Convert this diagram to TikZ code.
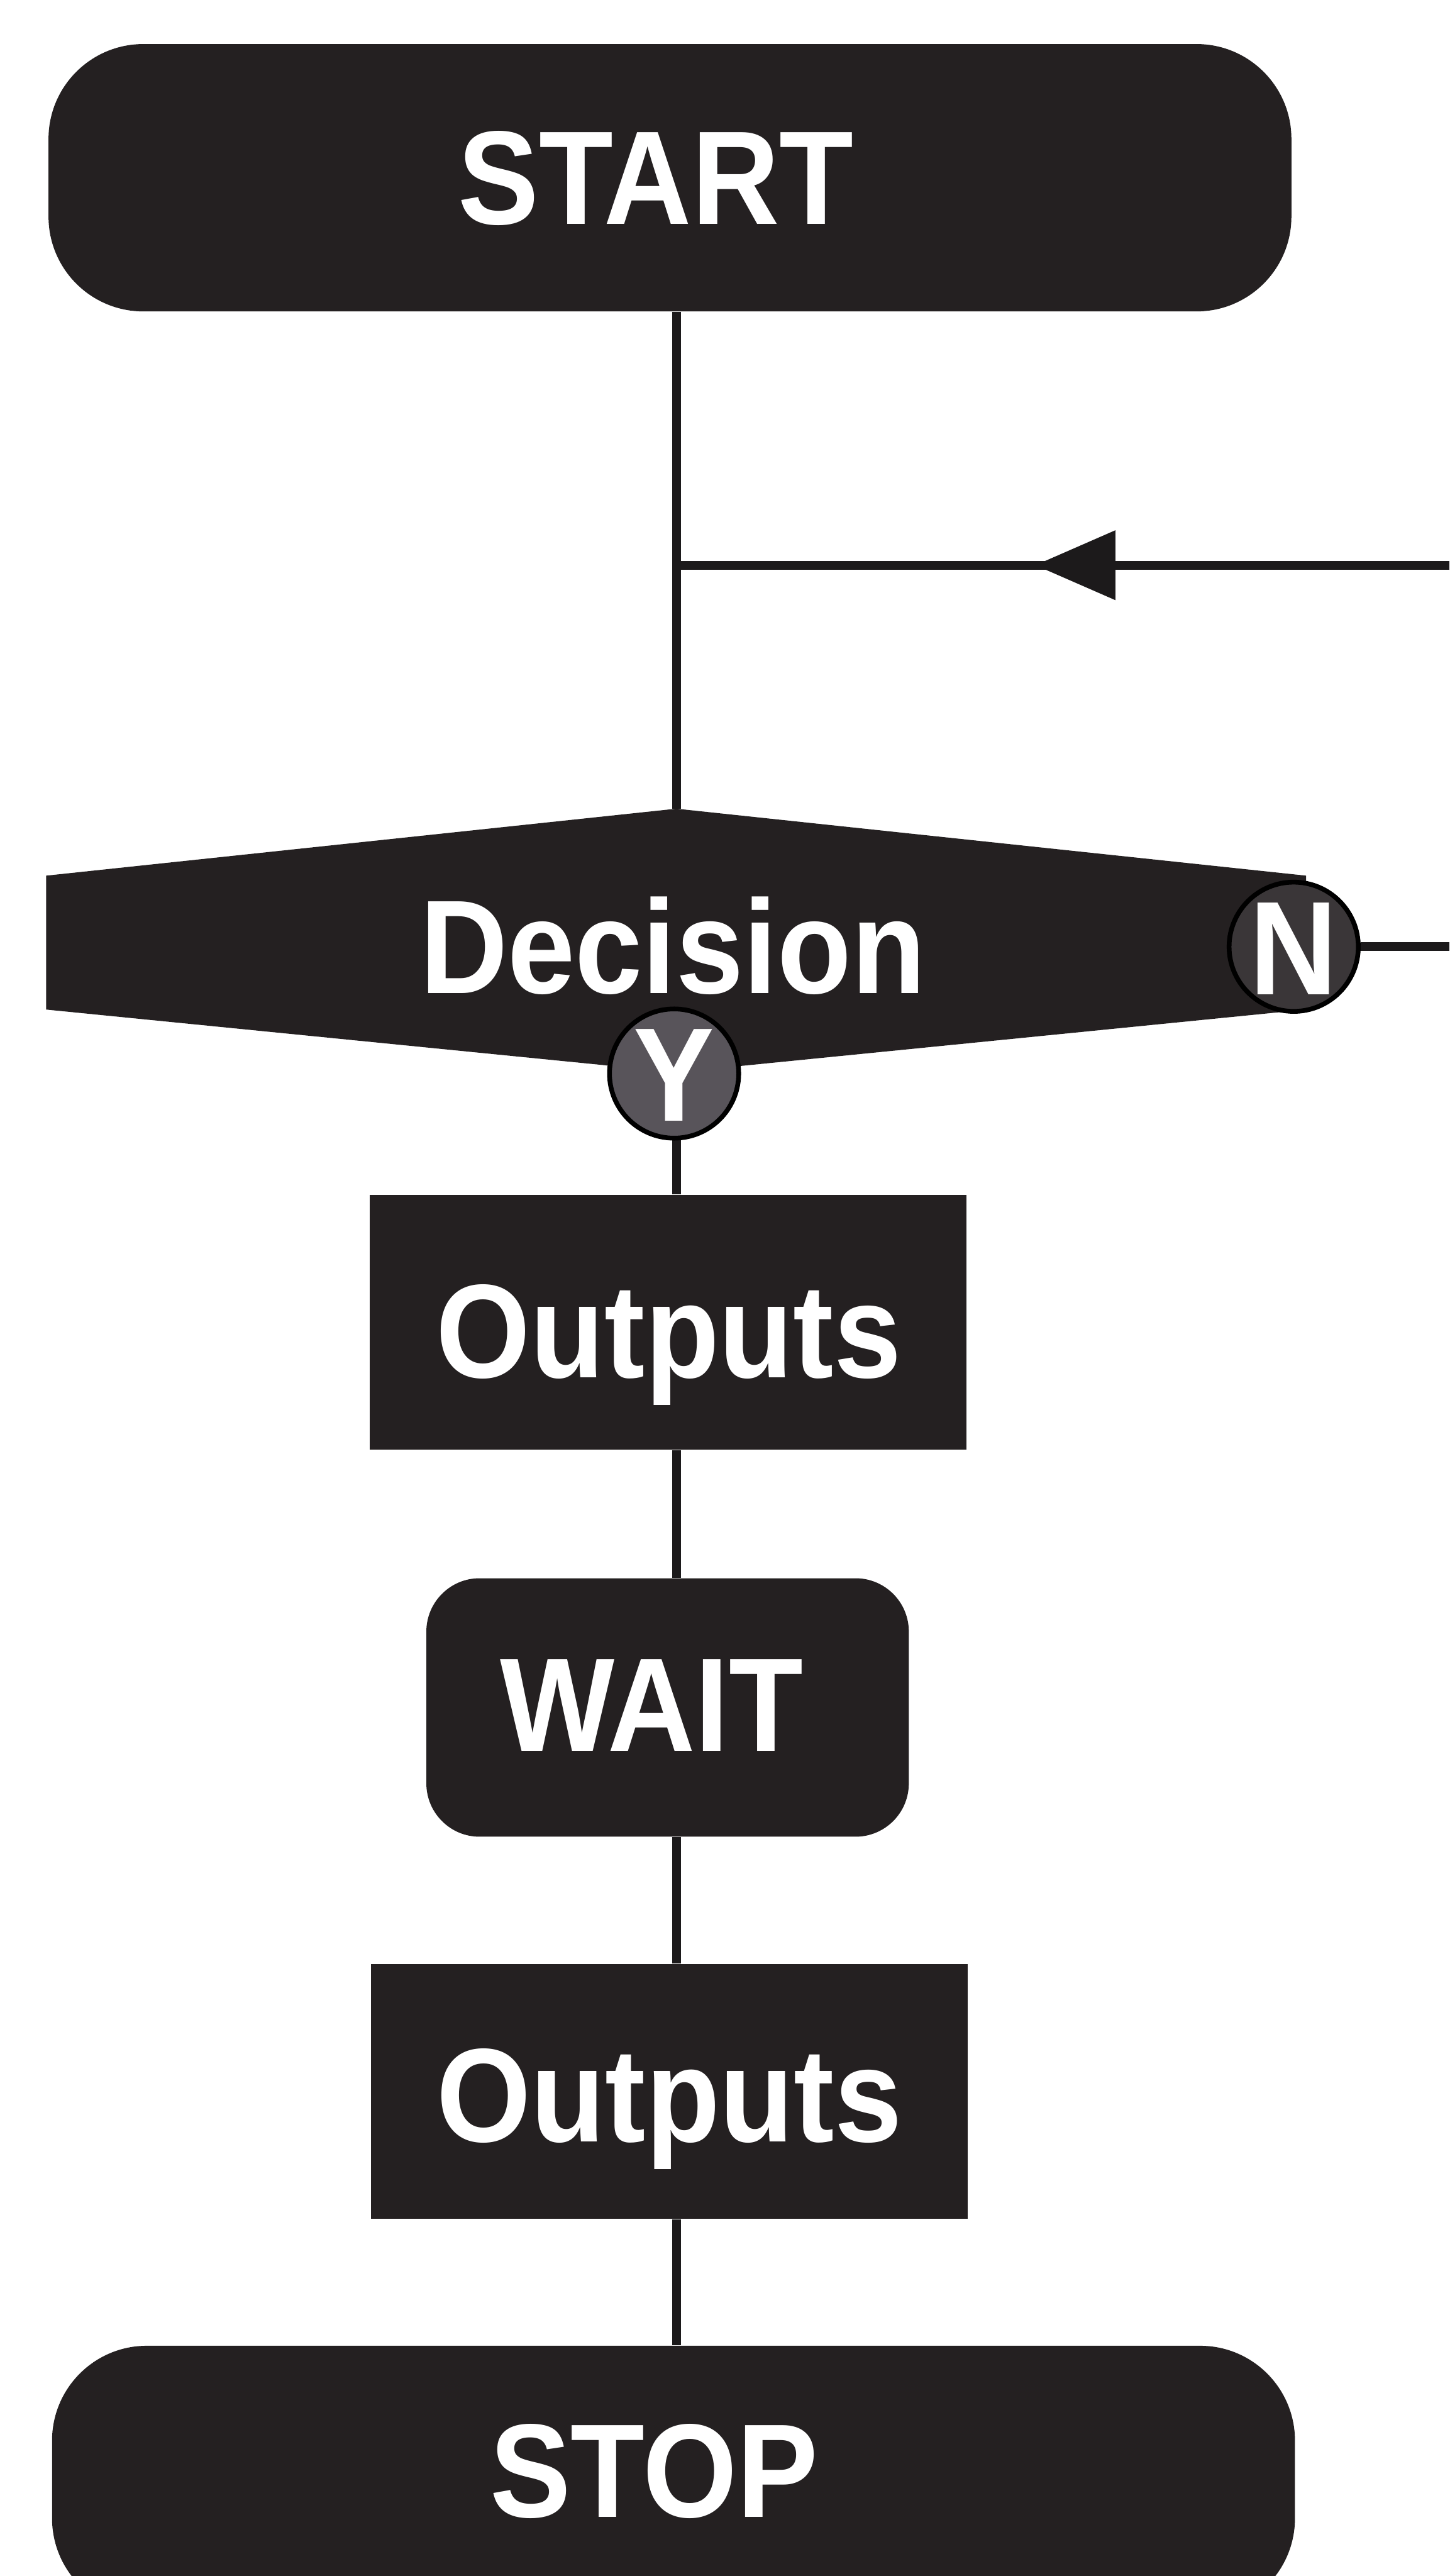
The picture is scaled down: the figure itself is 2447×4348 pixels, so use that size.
\documentclass[tikz,border=0pt]{standalone}
\usepackage{fontspec}
\newfontfamily\diafont{Liberation Sans}[FakeStretch=0.91]
\definecolor{boxblack}{HTML}{242021}
\definecolor{lineblack}{HTML}{1C1A1B}
\definecolor{ngray}{HTML}{3A3638}
\definecolor{ygray}{HTML}{58545A}
\begin{document}
\begin{tikzpicture}[x=0.01cm,y=-0.01cm,
  conn/.style={line width=0.15cm, draw=lineblack},
  term/.style={fill=boxblack, inner sep=0, minimum width=20.97cm, minimum height=4.51cm, rounded corners=1.6cm},
  procbox/.style={fill=boxblack, inner sep=0, minimum width=10.07cm, minimum height=4.3cm},
  waitbox/.style={fill=boxblack, inner sep=0, minimum width=8.14cm, minimum height=4.36cm, rounded corners=0.9cm},
  lbl/.style={text=white, inner sep=0, font=\diafont\bfseries\fontsize{64}{64}\selectfont, text height=45.8pt, text depth=0pt},
  yn/.style={circle, draw=black, line width=0.08cm, minimum size=2.18cm, inner sep=0}
]
\clip (0,0) rectangle (2447,4348);
\fill[white] (0,0) rectangle (2447,4348);

% shapes
\node[term] (start) at (1131,300) {};
\node[lbl] (starttext) at (1107,298) {START};

\coordinate (dtop) at (1142,1365);
\coordinate (dbot) at (1142,1810);
\fill[boxblack] (78,1478) -- (dtop) -- (2205,1478) -- (2205,1704) -- (dbot) -- (78,1704) -- cycle;
\node[lbl] (dectext) at (1136,1596) {Decision};

\node[procbox] (out1) at (1128,2232) {};
\node[lbl] (out1text) at (1129,2245) {Outputs};

\node[waitbox] (wait) at (1127,2882) {};
\node[lbl] (waittext) at (1100,2875) {WAIT};

\node[procbox] (out2) at (1130,3530) {};
\node[lbl] (out2text) at (1130,3534) {Outputs};

\node[term] (stop) at (1137,4185) {};
\node[lbl] (stoptext) at (1104,4168) {STOP};

% connectors
\coordinate (loopin) at (2447,954);
\coordinate (nout) at (2447,1598);
\coordinate (tip) at (1748,954);

\draw[conn] (dtop |- start.south) -- (dtop);
\draw[conn] (loopin) -- (dtop |- loopin);
\fill[lineblack] (tip) -- ([shift={(135,-59)}]tip) -- ([shift={(135,59)}]tip) -- cycle;

\node[yn, fill=ngray, lbl] (no) at (2184,1598) {N};
\draw[conn] (no.east) -- (nout);

\draw[conn] (dtop |- dbot) -- (dtop |- out1.north);
\node[yn, fill=ygray, lbl] (yes) at (1138,1812) {Y};

\draw[conn] (dtop |- out1.south) -- (dtop |- wait.north);
\draw[conn] (dtop |- wait.south) -- (dtop |- out2.north);
\draw[conn] (dtop |- out2.south) -- (dtop |- stop.north);
\end{tikzpicture}
\end{document}
